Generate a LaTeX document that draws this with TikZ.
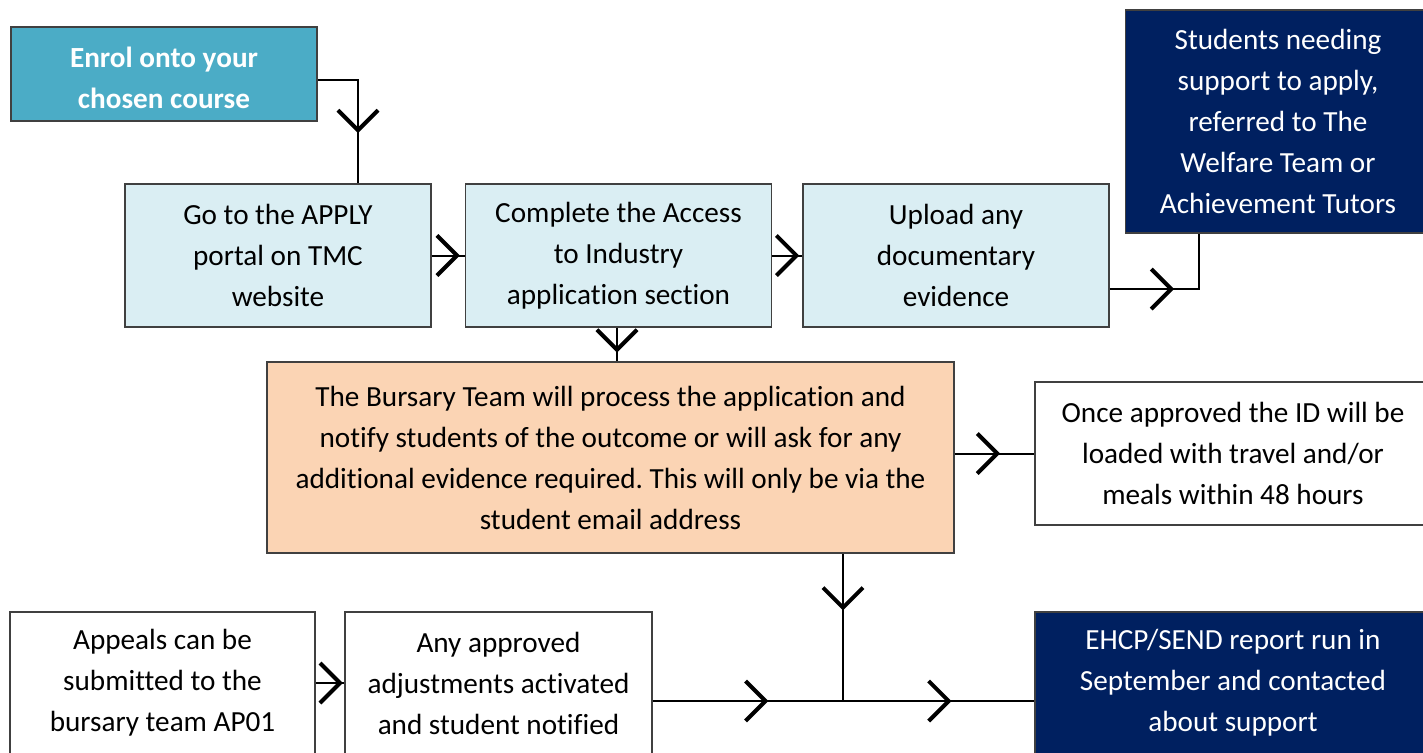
\documentclass[tikz,border=0pt]{standalone}
\usepackage{fontspec}
\setmainfont{Carlito}[Ligatures={NoCommon}]
\usetikzlibrary{arrows.meta,decorations.markings}
\definecolor{enrolteal}{HTML}{4BACC6}
\definecolor{paleblue}{HTML}{DAEEF3}
\definecolor{darknavy}{HTML}{002060}
\definecolor{peach}{HTML}{FBD4B4}
\frenchspacing
\tikzset{
  barb/.tip={Straight Barb[length=10pt,width=20pt,line width=2pt]},
  box/.style={draw=black!75,line width=0.75pt,align=center,inner sep=0pt,
    font=\fontsize{14.6}{20.5}\selectfont},
  smallbox/.style={box,minimum width=153pt,minimum height=71.5pt},
  conn/.style={line width=1pt},
  chev/.style={postaction={decorate},
    decoration={markings,mark=at position #1 with {\arrow{barb}}}},
  chevtwo/.style 2 args={postaction={decorate},
    decoration={markings,mark=at position #1 with {\arrow{barb}},
      mark=at position #2 with {\arrow{barb}}}}
}
\begin{document}
\begin{tikzpicture}[x=0.5pt,y=-0.5pt]
\useasboundingbox (0,0) rectangle (1423,752);
% top row
\node[box,fill=enrolteal,text=white,font=\fontsize{14.6}{20.5}\selectfont\bfseries,
  minimum width=153pt,minimum height=47pt] (enrol) at (164,74) {\rule{0pt}{14pt}Enrol onto your\\chosen course};
\node[smallbox,fill=paleblue] (portal) at (278,255.5) {Go to the APPLY\\portal on TMC\\website};
\node[smallbox,fill=paleblue] (access) at (618.5,255.5) {Complete the Access\\to Industry\\application section};
\node[smallbox,fill=paleblue] (upload) at (956,255.5) {Upload any\\documentary\\evidence};
\node[box,fill=darknavy,text=white,minimum width=152.5pt,minimum height=111.5pt]
  (support) at (1278,121.5) {Students needing\\support to apply,\\referred to The\\Welfare Team or\\Achievement Tutors};
% middle row
\node[box,fill=peach,minimum width=343.5pt,minimum height=95.5pt] (bursary) at (610.5,457.5)
  {The Bursary Team will process the application and\\notify students of the outcome or will ask for any\\additional evidence required. This will only be via the\\student email address};
\node[box,fill=white,minimum width=198pt,minimum height=71.5pt] (approved) at (1233,453.5)
  {Once approved the ID will be\\loaded with travel and/or\\meals within 48 hours};
% bottom row
\node[box,fill=white,minimum width=152.5pt,minimum height=71pt] (appeals) at (162.5,683)
  {Appeals can be\\submitted to the\\bursary team AP01};
\node[box,fill=white,minimum width=153.5pt,minimum height=71pt] (adjust) at (498.5,683)
  {Any approved\\adjustments activated\\and student notified};
\node[box,fill=darknavy,text=white,minimum width=198pt,minimum height=71pt] (ehcp) at (1233,683)
  {EHCP/SEND report run in\\September and contacted\\about support};
% connectors
\coordinate (bendA) at (358,80);
\coordinate (bendB) at (1199,289);
\coordinate (join) at (843,701);
\draw[conn,chev=0.65] (enrol.east |- bendA) -- (bendA) -- (bendA |- portal.north);
\draw[conn,chev=0.85] (portal.east) -- (access.west);
\draw[conn,chev=0.9] (access.east) -- (upload.west);
\draw[conn,chev=0.445] (upload.east |- bendB) -- (bendB) -- (bendB |- support.south);
\draw[conn,chev=0.74] (access.south -| 617,0) -- (bursary.north -| 617,0);
\draw[conn,chev=0.57] (bursary.east |- approved.west) -- (approved.west);
\draw[conn,chev=0.385] (bursary.south -| join) -- (join);
\draw[conn,chevtwo={0.303}{0.783}] (adjust.east |- join) -- (ehcp.west |- join);
\draw[conn,chev=0.95] (appeals.east) -- (adjust.west);
\end{tikzpicture}
\end{document}
